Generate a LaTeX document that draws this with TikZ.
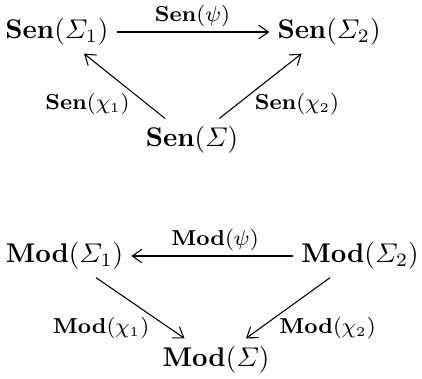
\documentclass[tikz,border=0pt]{standalone}
\usepackage{amsmath}
\usetikzlibrary{arrows.meta}
\begin{document}
\begin{tikzpicture}[x=0.37pt,y=-0.37pt,
  obj/.style={inner sep=0pt,outer sep=3pt},
  lbl/.style={font=\fontsize{7.7}{9}\selectfont,inner sep=0pt},
  map/.style={-{Straight Barb[length=3.6pt,width=5pt,line width=0.4pt]},line width=0.4pt},
  hmap/.style={map,line width=0.75pt}]
\useasboundingbox (0,0) rectangle (422,378);

% sentence functor triangle
\node[obj] (s1) at (57,32)  {$\mathbf{Sen}(\varSigma_1)$};
\node[obj] (s2) at (329,32) {$\mathbf{Sen}(\varSigma_2)$};
\node[obj] (s)  at (192,140) {$\mathbf{Sen}(\varSigma)$};
\draw[hmap] (s1) -- (s2);
\draw[map] (s) -- (s1);
\draw[map] (s) -- (s2);
\node[lbl] (lpsi)  at (192.5,16.5) {$\mathbf{Sen}(\psi)$};
\node[lbl] (lchi1) at (87.5,104)   {$\mathbf{Sen}(\chi_1)$};
\node[lbl] (lchi2) at (297,104)    {$\mathbf{Sen}(\chi_2)$};

% model functor triangle
\node[obj] (m1) at (64.5,256) {$\mathbf{Mod}(\varSigma_1)$};
\node[obj] (m2) at (360,256)  {$\mathbf{Mod}(\varSigma_2)$};
\node[obj] (m)  at (216,360)  {$\mathbf{Mod}(\varSigma)$};
\draw[hmap] (m2) -- (m1);
\draw[map] (m1) -- (m);
\draw[map] (m2) -- (m);
\node[lbl] (mpsi)  at (215,240)   {$\mathbf{Mod}(\psi)$};
\node[lbl] (mchi1) at (101,328)   {$\mathbf{Mod}(\chi_1)$};
\node[lbl] (mchi2) at (327.5,328) {$\mathbf{Mod}(\chi_2)$};
\end{tikzpicture}
\end{document}
